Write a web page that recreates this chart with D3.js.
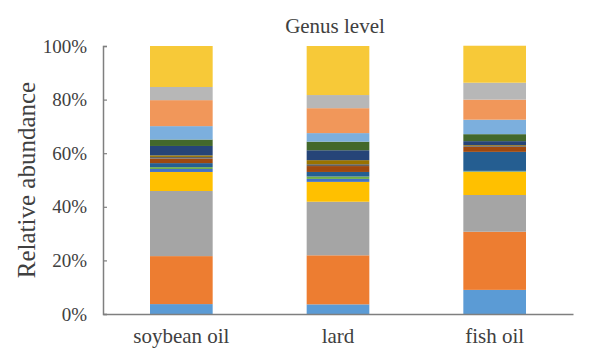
<!DOCTYPE html>
<html>
<head>
<meta charset="utf-8">
<script src="https://cdn.jsdelivr.net/npm/d3@7"></script>
<style>
  html, body { margin: 0; padding: 0; background: #fff; }
  svg text { font-family: "Liberation Serif", "DejaVu Serif", serif; fill: #404040; }
</style>
</head>
<body>
<div id="wrapper"></div>
<script>
// groups on the x axis
const groups = ["soybean oil", "lard", "fish oil"]

// genus layers, bottom to top (percent of each bar)
const genus1  = [3.7, 3.6, 9.0]
const genus2  = [17.9, 18.3, 21.7]
const genus3  = [24.3, 20.0, 13.7]
const genus4  = [7.1, 7.4, 8.6]
const genus5  = [1.1, 1.1, 0.2]
const genus6  = [0.7, 0.9, 0.2]
const genus7  = [1.5, 1.7, 7.1]
const genus8  = [1.7, 2.2, 1.9]
const genus9  = [0.6, 0.7, 0.3]
const genus10 = [0.6, 1.5, 0.3]
const genus11 = [3.5, 3.7, 1.5]
const genus12 = [2.4, 3.2, 2.6]
const genus13 = [5.0, 3.2, 5.4]
const genus14 = [9.7, 9.3, 7.5]
const genus15 = [4.9, 4.9, 6.3]
const genus16 = [15.3, 18.3, 13.8]

const yTicks = [0, 20, 40, 60, 80, 100]

const layers = [genus1, genus2, genus3, genus4, genus5, genus6, genus7, genus8,
                genus9, genus10, genus11, genus12, genus13, genus14, genus15, genus16]
const keys = layers.map((d, i) => "g" + (i + 1))

// office-style palette
const colors = ["#5b9bd5", "#ed7d31", "#a5a5a5", "#ffc000", "#4472c4", "#70ad47",
                "#255e91", "#9e480e", "#636363", "#997300", "#264478", "#43682b",
                "#7cafdd", "#f1975a", "#b7b7b7", "#f7c938"]

// table for d3.stack
const table = groups.map((g, j) => {
    const row = { group: g }
    keys.forEach((k, i) => { row[k] = layers[i][j] })
    return row
})

let dims = {
    width: 595,
    height: 354,
    margin: { top: 46, right: 22, bottom: 40, left: 103 },
}
dims.boundWidth = dims.width - dims.margin.left - dims.margin.right
dims.boundHeight = dims.height - dims.margin.top - dims.margin.bottom

const svg = d3.select("#wrapper")
    .append("svg")
        .attr("width", dims.width)
        .attr("height", dims.height)

const bound = svg.append("g")
    .attr("transform", `translate(${dims.margin.left},${dims.margin.top})`)

const xScale = d3.scaleBand()
    .domain(groups)
    .range([0, dims.boundWidth])
    .paddingInner(0.6)
    .paddingOuter(0.3)

const yScale = d3.scaleLinear()
    .domain([0, 100])
    .range([dims.boundHeight, 0])

const series = d3.stack().keys(keys)(table)

bound.selectAll("g.layer")
    .data(series)
    .join("g")
        .attr("class", "layer")
        .attr("fill", (d, i) => colors[i])
    .selectAll("rect")
    .data(d => d)
    .join("rect")
        .attr("x", d => xScale(d.data.group))
        .attr("width", xScale.bandwidth())
        .attr("y", d => yScale(d[1]))
        .attr("height", d => yScale(d[0]) - yScale(d[1]))

// y axis, ticks pointing inward
const yAxis = bound.append("g")
    .call(d3.axisLeft(yScale).tickValues(yTicks).tickSize(-4).tickSizeOuter(-4)
        .tickFormat(d => d + "%").tickPadding(16))
yAxis.select(".domain").attr("stroke", "#7f7f7f").attr("stroke-width", 1.5)
yAxis.selectAll(".tick line").attr("stroke", "#7f7f7f").attr("stroke-width", 1.2)
yAxis.selectAll(".tick text")
    .attr("font-size", 19)
    .style("font-family", "Liberation Serif, serif")
    .attr("fill", "#404040")

// x axis
const xAxis = bound.append("g")
    .attr("transform", `translate(0,${dims.boundHeight})`)
    .call(d3.axisBottom(xScale).tickSize(0).tickPadding(14))
xAxis.select(".domain").attr("stroke", "#7f7f7f").attr("stroke-width", 1.5)
xAxis.selectAll(".tick text")
    .attr("font-size", 21)
    .style("font-family", "Liberation Serif, serif")
    .attr("fill", "#404040")

// title
svg.append("text")
    .attr("x", 335)
    .attr("y", 33)
    .attr("text-anchor", "middle")
    .attr("font-size", 21)
    .attr("fill", "#333")
    .text("Genus level")

// y label
svg.append("text")
    .attr("transform", `translate(35,180) rotate(-90)`)
    .attr("text-anchor", "middle")
    .attr("font-size", 25)
    .attr("fill", "#404040")
    .text("Relative abundance")
</script>
</body>
</html>
